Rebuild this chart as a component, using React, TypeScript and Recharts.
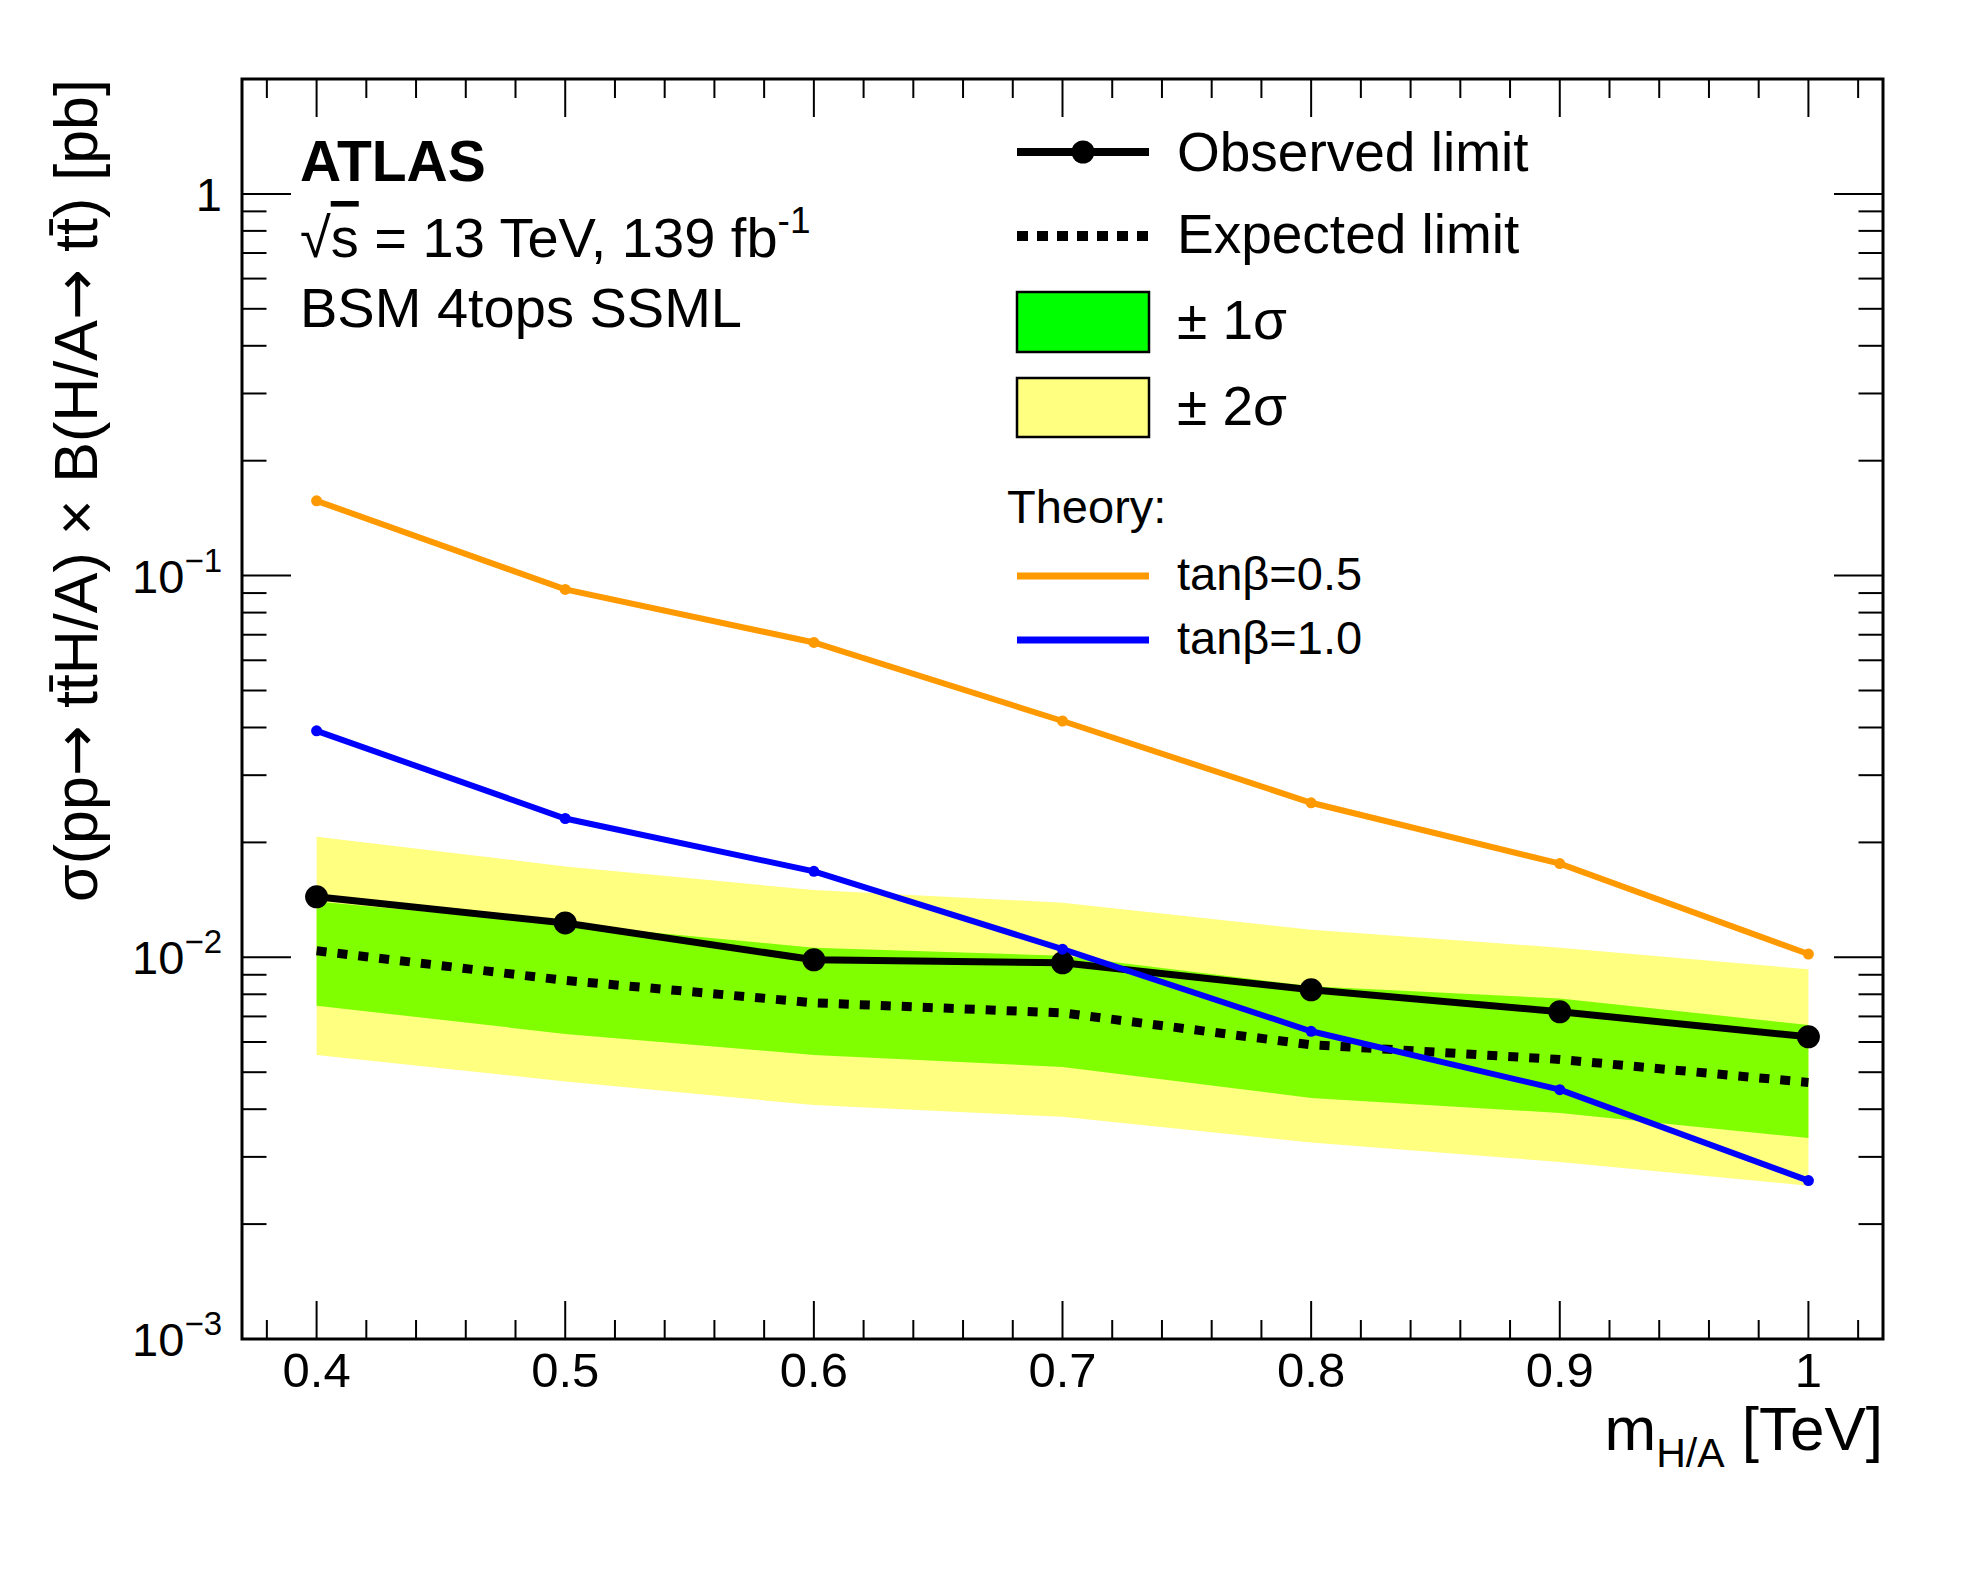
import React from 'react';
import { ComposedChart, Area, Line, XAxis, YAxis } from 'recharts';

const FONT = '"Liberation Sans", Arial, Helvetica, sans-serif';
const ARROW_FONT = '"DejaVu Sans", sans-serif';

// ---- data ----
const masses = [0.4, 0.5, 0.6, 0.7, 0.8, 0.9, 1.0];
const observed = [0.0144, 0.0123, 0.00985, 0.00967, 0.00822, 0.0072, 0.00619];
const expected = [0.0104, 0.0087, 0.0076, 0.00715, 0.0059, 0.0054, 0.0047];
const plus1 = [0.014, 0.0122, 0.0106, 0.0101, 0.0084, 0.0078, 0.00665];
const minus1 = [0.00747, 0.0063, 0.00555, 0.00516, 0.00428, 0.00391, 0.00336];
const plus2 = [0.0207, 0.0173, 0.015, 0.0139, 0.0118, 0.0106, 0.0093];
const minus2 = [0.00555, 0.00473, 0.0041, 0.00382, 0.00327, 0.00291, 0.00252];
const tanb05 = [0.157, 0.092, 0.0668, 0.0416, 0.0254, 0.0176, 0.0102];
const tanb10 = [0.0392, 0.0231, 0.0168, 0.0105, 0.0064, 0.0045, 0.0026];

// ---- axes ----
const xDomain = [0.37, 1.03];
const yDomain = [0.001, 2];
const majorX = [0.4, 0.5, 0.6, 0.7, 0.8, 0.9, 1.0];
const xTickLabels = ['0.4', '0.5', '0.6', '0.7', '0.8', '0.9', '1'];
const minorX = [0.38, 0.42, 0.44, 0.46, 0.48, 0.52, 0.54, 0.56, 0.58, 0.62, 0.64, 0.66, 0.68, 0.72, 0.74, 0.76, 0.78, 0.82, 0.84, 0.86, 0.88, 0.92, 0.94, 0.96, 0.98, 1.02];
const majorY = [0.001, 0.01, 0.1, 1];
const yTickBase = ['10', '10', '10', '1'];
const yTickExp = ['\u22123', '\u22122', '\u22121', ''];
const minorY = [0.002, 0.003, 0.004, 0.005, 0.006, 0.007, 0.008, 0.009, 0.02, 0.03, 0.04, 0.05, 0.06, 0.07, 0.08, 0.09, 0.2, 0.3, 0.4, 0.5, 0.6, 0.7, 0.8, 0.9];

const allX = [...majorX, ...minorX].sort((a, b) => a - b);
const allY = [...majorY, ...minorY].sort((a, b) => a - b);

const data = masses.map((m, i) => ({
  m,
  obs: observed[i],
  exp: expected[i],
  band1: [minus1[i], plus1[i]],
  band2: [minus2[i], plus2[i]],
  t05: tanb05[i],
  t10: tanb10[i],
}));

const idx = (arr: number[], v: number) => arr.findIndex((t) => Math.abs(t - v) < 1e-9);

const W = 1980;
const H = 1570;
// plot frame: left 242, right 1883, top 79, bottom 1339 (axes take 1px each)
const FR = { left: 242, right: 1883, top: 79, bottom: 1339 };
const M = { top: FR.top - 1, right: W - FR.right - 1, bottom: H - FR.bottom - 1, left: FR.left - 1 };

const X_MAJ = 38, X_MIN = 19, Y_MAJ = 49, Y_MIN = 24.5;

function BottomTick(props: any) {
  const { x, y, payload } = props;
  const i = idx(majorX, payload.value);
  const len = i >= 0 ? X_MAJ : X_MIN;
  return (
    <g>
      <line x1={x} x2={x} y1={y} y2={y - len} stroke="#000" strokeWidth={2} />
      {i >= 0 && (
        <text x={x} y={y + 48} textAnchor="middle" fontSize={49} fontFamily={FONT} fill="#000">
          {xTickLabels[i]}
        </text>
      )}
    </g>
  );
}

function TopTick(props: any) {
  const { x, y, payload } = props;
  const len = idx(majorX, payload.value) >= 0 ? X_MAJ : X_MIN;
  return <line x1={x} x2={x} y1={y} y2={y + len} stroke="#000" strokeWidth={2} />;
}

function LeftTick(props: any) {
  const { x, y, payload } = props;
  const i = idx(majorY, payload.value);
  const len = i >= 0 ? Y_MAJ : Y_MIN;
  return (
    <g>
      <line x1={x} x2={x + len} y1={y} y2={y} stroke="#000" strokeWidth={2} />
      {i >= 0 && (
        <text x={x - 20} y={y + 17} textAnchor="end" fontSize={47} fontFamily={FONT} fill="#000">
          {yTickBase[i]}
          {yTickExp[i] && (
            <tspan fontSize={33} dy={-21}>
              {yTickExp[i]}
            </tspan>
          )}
        </text>
      )}
    </g>
  );
}

function RightTick(props: any) {
  const { x, y, payload } = props;
  const len = idx(majorY, payload.value) >= 0 ? Y_MAJ : Y_MIN;
  return <line x1={x} x2={x - len} y1={y} y2={y} stroke="#000" strokeWidth={2} />;
}

function Overlay() {
  const lx1 = 1017, lx2 = 1149, tx = 1177;
  return (
    <svg width={W} height={H} style={{ position: 'absolute', left: 0, top: 0, pointerEvents: 'none' }} fontFamily={FONT}>
      <rect x={FR.left} y={FR.top} width={FR.right - FR.left} height={FR.bottom - FR.top} fill="none" stroke="#000" strokeWidth={3} />
      {/* labels */}
      <text x={300} y={181} fontSize={57} fontWeight="bold" fill="#000">ATLAS</text>
      <text x={300} y={257} fontSize={56} fill="#000">
        √<tspan style={{ textDecoration: 'overline' }}>s</tspan> = 13 TeV, 139 fb
        <tspan fontSize={37} dy={-24}>-1</tspan>
      </text>
      <text x={300} y={327} fontSize={56} fill="#000">BSM 4tops SSML</text>
      {/* legend */}
      <line x1={lx1} x2={lx2} y1={152} y2={152} stroke="#000" strokeWidth={8} />
      <circle cx={1083} cy={152} r={11.5} fill="#000" />
      <text x={tx} y={171} fontSize={55} fill="#000">Observed limit</text>
      <line x1={lx1} x2={lx2} y1={236} y2={236} stroke="#000" strokeWidth={10} strokeDasharray="11 9" />
      <text x={tx} y={253} fontSize={55} fill="#000">Expected limit</text>
      <rect x={lx1} y={292} width={lx2 - lx1} height={60} fill="#00ff00" stroke="#000" strokeWidth={2.5} />
      <text x={tx} y={339} fontSize={55} fill="#000">± 1σ</text>
      <rect x={lx1} y={378} width={lx2 - lx1} height={59} fill="#ffff80" stroke="#000" strokeWidth={2.5} />
      <text x={tx} y={425} fontSize={55} fill="#000">± 2σ</text>
      <text x={1007} y={523} fontSize={47} fill="#000">Theory:</text>
      <line x1={lx1} x2={lx2} y1={576} y2={576} stroke="#ff9900" strokeWidth={7} />
      <text x={tx} y={590} fontSize={47} fill="#000">tanβ=0.5</text>
      <line x1={lx1} x2={lx2} y1={640} y2={640} stroke="#0000ff" strokeWidth={7} />
      <text x={tx} y={654} fontSize={47} fill="#000">tanβ=1.0</text>
      {/* axis titles */}
      <text x={FR.right} y={1450} textAnchor="end" fontSize={62} fill="#000">
        m<tspan fontSize={41} dy={17}>H/A</tspan>
        <tspan dy={-17}> [TeV]</tspan>
      </text>
      <text transform={`translate(97,${FR.top}) rotate(-90)`} textAnchor="end" fontSize={61} fill="#000">
        σ(pp<tspan fontFamily={ARROW_FONT}>→</tspan> tt̄H/A) × B(H/A<tspan fontFamily={ARROW_FONT}>→</tspan> tt̄) [pb]
      </text>
    </svg>
  );
}

export default function App() {
  return (
    <div style={{ position: 'absolute', left: 0, top: 0, width: W, height: H, background: '#fff' }}>
      <ComposedChart width={W} height={H} data={data} margin={M}>
        <XAxis xAxisId="b" dataKey="m" type="number" domain={xDomain} allowDataOverflow ticks={allX} interval={0}
          tick={<BottomTick />} tickLine={false} axisLine={false} tickSize={0} tickMargin={0} height={1} orientation="bottom" />
        <XAxis xAxisId="t" dataKey="m" type="number" domain={xDomain} allowDataOverflow ticks={allX} interval={0}
          tick={<TopTick />} tickLine={false} axisLine={false} tickSize={0} tickMargin={0} height={1} orientation="top" />
        <YAxis yAxisId="l" type="number" scale="log" domain={yDomain} allowDataOverflow ticks={allY} interval={0}
          tick={<LeftTick />} tickLine={false} axisLine={false} tickSize={0} tickMargin={0} width={1} orientation="left" />
        <YAxis yAxisId="r" type="number" scale="log" domain={yDomain} allowDataOverflow ticks={allY} interval={0}
          tick={<RightTick />} tickLine={false} axisLine={false} tickSize={0} tickMargin={0} width={1} orientation="right" />
        <Area xAxisId="b" yAxisId="l" type="linear" dataKey="band2" stroke="none" fill="#ffff80" fillOpacity={1} dot={false} activeDot={false} isAnimationActive={false} />
        <Area xAxisId="b" yAxisId="l" type="linear" dataKey="band1" stroke="none" fill="#80ff00" fillOpacity={1} dot={false} activeDot={false} isAnimationActive={false} />
        <Line xAxisId="b" yAxisId="l" type="linear" dataKey="exp" stroke="#000" strokeWidth={9} strokeDasharray="10 11" dot={false} activeDot={false} isAnimationActive={false} />
        <Line xAxisId="b" yAxisId="l" type="linear" dataKey="obs" stroke="#000" strokeWidth={7} dot={{ r: 11.5, fill: '#000', stroke: 'none' }} activeDot={false} isAnimationActive={false} />
        <Line xAxisId="t" yAxisId="r" type="linear" dataKey="t05" stroke="#ff9900" strokeWidth={6} dot={{ r: 5.5, fill: '#ff9900', stroke: 'none' }} activeDot={false} isAnimationActive={false} />
        <Line xAxisId="t" yAxisId="r" type="linear" dataKey="t10" stroke="#0000ff" strokeWidth={6} dot={{ r: 5.5, fill: '#0000ff', stroke: 'none' }} activeDot={false} isAnimationActive={false} />
      </ComposedChart>
      <Overlay />
    </div>
  );
}
